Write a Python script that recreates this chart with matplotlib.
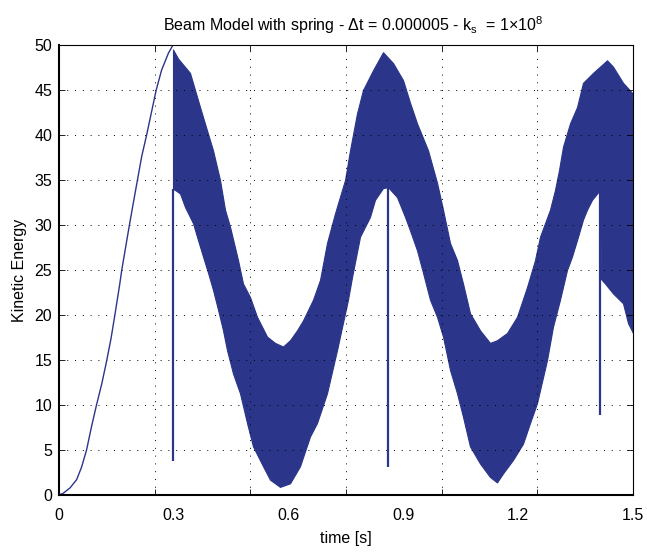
import numpy as np
import matplotlib
matplotlib.use("Agg")
import matplotlib.pyplot as plt

plt.rcParams['font.family'] = ['Liberation Sans', 'DejaVu Sans']
plt.rcParams['mathtext.default'] = 'regular'

# Initial smooth rise
rise_t = [0.0, 0.011, 0.029, 0.046, 0.059, 0.072, 0.085, 0.098, 0.112, 0.125,
          0.136, 0.146, 0.159, 0.164, 0.184, 0.194, 0.205, 0.216, 0.229,
          0.242, 0.254, 0.268, 0.286, 0.298]
rise_v = [0.0, 0.19, 0.8, 1.7, 3.1, 5.0, 7.6, 10.0, 12.4, 15.0,
          17.4, 20.0, 23.5, 25.0, 30.0, 32.4, 35.0, 37.6, 40.0,
          42.6, 45.0, 47.2, 49.1, 50.0]

# Oscillating band: upper envelope
up_t = [0.2979, 0.3110, 0.3423, 0.3685, 0.3868, 0.4024, 0.4207, 0.4338,
        0.4469, 0.4678, 0.4808, 0.4991, 0.5174, 0.5436, 0.5645, 0.5854,
        0.6037, 0.6220, 0.6376, 0.6638, 0.6821, 0.7003, 0.7213, 0.7474,
        0.7605, 0.7787, 0.7944, 0.8206, 0.8467, 0.8728, 0.8990, 0.9172,
        0.9355, 0.9643, 0.9878, 1.0035, 1.0218, 1.0401, 1.0557, 1.0740,
        1.1002, 1.1263, 1.1446, 1.1707, 1.1969, 1.2230, 1.2439, 1.2570,
        1.2831, 1.2962, 1.3066, 1.3171, 1.3354, 1.3537, 1.3693, 1.3955,
        1.4321, 1.4477, 1.4739, 1.4974, 1.5]
up_v = [49.5, 48.5, 46.9, 43.1, 40.5, 38.3, 35.0, 31.7,
        29.8, 26.1, 23.5, 22.0, 19.8, 17.6, 16.9, 16.5,
        17.2, 18.3, 19.4, 21.7, 23.9, 28.0, 31.3, 35.0,
        38.3, 42.4, 45.0, 47.2, 49.2, 48.0, 46.1, 43.6,
        41.3, 38.3, 34.7, 31.7, 28.0, 26.1, 23.5, 20.2,
        18.3, 16.9, 17.2, 18.0, 19.8, 23.1, 26.1, 28.7,
        31.7, 33.9, 36.1, 38.7, 41.3, 43.1, 45.8, 46.9,
        48.3, 47.6, 45.8, 44.7, 43.1]

# Oscillating band: lower envelope
lo_t = [0.2979, 0.3031, 0.3162, 0.3293, 0.3502, 0.3606, 0.3763, 0.3894,
        0.4024, 0.4155, 0.4286, 0.4390, 0.4547, 0.4730, 0.4913, 0.5070,
        0.5331, 0.5514, 0.5775, 0.6037, 0.6298, 0.6559, 0.6742, 0.7003,
        0.7265, 0.7552, 0.7657, 0.7866, 0.8127, 0.8258, 0.8467, 0.8598,
        0.8833, 0.9042, 0.9172, 0.9355, 0.9512, 0.9695, 0.9878, 1.0035,
        1.0218, 1.0401, 1.0557, 1.0740, 1.1002, 1.1263, 1.1446, 1.1603,
        1.1864, 1.2125, 1.2308, 1.2491, 1.2753, 1.2909, 1.3092, 1.3275,
        1.3406, 1.3563, 1.3693, 1.3798, 1.3929, 1.4138, 1.4164, 1.4268,
        1.4477, 1.4739, 1.4869, 1.5]
lo_v = [34.0, 33.9, 33.5, 32.0, 30.2, 28.7, 26.5, 24.7,
        22.8, 20.6, 18.3, 16.1, 13.5, 11.3, 8.0, 5.4,
        3.2, 1.7, 0.9, 1.3, 3.2, 6.5, 8.0, 11.3,
        16.1, 21.7, 24.2, 28.7, 30.9, 32.8, 34.1, 34.2,
        33.1, 30.9, 29.4, 27.2, 24.7, 21.7, 19.8, 17.6,
        13.9, 11.3, 8.7, 5.4, 3.5, 2.0, 1.4, 2.4,
        3.9, 5.7, 8.0, 10.2, 15.0, 18.7, 21.7, 25.0,
        26.5, 28.7, 30.6, 31.7, 32.8, 33.9, 24.0, 23.5,
        22.4, 21.3, 19.1, 18.0]

# Single-sample dips (time, bottom value)
dip_t = [0.2979, 0.8598, 1.4138]
dip_lo = [3.8, 3.1, 8.9]
dip_hi = [34.0, 34.2, 33.9]

color = '#2b3589'

fig = plt.figure(figsize=(6.47, 5.55), dpi=100)
ax = fig.add_axes([59/647, 60/555, 574/647, 450/555])

ax.plot(rise_t, rise_v, color=color, lw=1.0)

t_grid = np.union1d(np.array(up_t), np.array(lo_t))
up_i = np.interp(t_grid, up_t, up_v)
lo_i = np.interp(t_grid, lo_t, lo_v)
ax.fill_between(t_grid, lo_i, up_i, color=color, lw=0.8, edgecolor=color)
ax.vlines(dip_t, dip_lo, dip_hi, color=color, lw=1.6)

ax.set_xlim(0, 1.5)
ax.set_ylim(0, 50)

grid_ticks = [0, 0.25, 0.5, 0.75, 1.0, 1.25, 1.5]
label_ticks = [0, 0.3, 0.6, 0.9, 1.2, 1.5]
ax.xaxis.remove_overlapping_locs = False
ax.set_xticks(grid_ticks)
ax.set_xticklabels([])
ax.set_xticks(label_ticks, minor=True)
ax.set_xticklabels(['0', '0.3', '0.6', '0.9', '1.2', '1.5'], minor=True)
ax.tick_params(axis='x', which='minor', length=0, pad=9, labelsize=11.5)
ax.set_yticks(np.arange(0, 51, 5))
ax.tick_params(axis='both', which='major', direction='in', length=4,
               top=True, right=True, labelsize=11.5, width=0.6)
ax.tick_params(axis='y', pad=5)
ax.grid(True, which='major', linestyle=(0, (1, 7)), color='black', lw=0.7)

for s in ['top', 'right']:
    ax.spines[s].set_linewidth(0.8)
for s in ['bottom', 'left']:
    ax.spines[s].set_linewidth(1.5)

ax.set_xlabel('time [s]', fontsize=11.5, labelpad=6)
ax.set_ylabel('Kinetic Energy', fontsize=11.5, labelpad=5)
ax.set_title(r'Beam Model with spring - Δt = 0.000005 - k$_{s}$  = 1×10$^{8}$',
             fontsize=11.5, pad=10, x=0.512)

fig.savefig('out.png', dpi=100)
